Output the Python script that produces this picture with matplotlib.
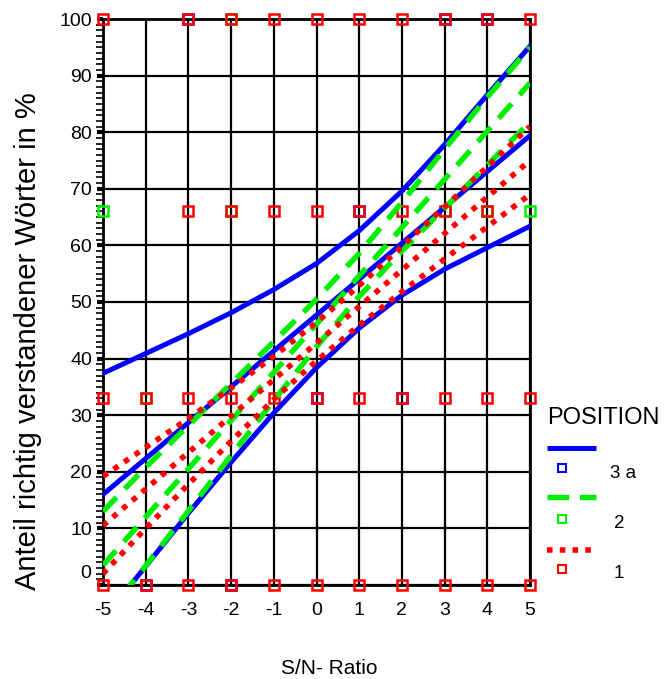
import matplotlib
matplotlib.use("Agg")
import matplotlib.pyplot as plt
from matplotlib.ticker import MultipleLocator

plt.rcParams['font.family'] = ['Liberation Sans', 'DejaVu Sans']

# ---------------- data ----------------
sn = [-5, -4, -3, -2, -1, 0, 1, 2, 3, 4, 5]

# POSITION 3 a (blue): regression line and confidence band
blue_fit_x = [-5, 5]
blue_fit_y = [16.0, 79.4]
blue_upper = [37.4, 40.9, 44.4, 48.1, 52.2, 56.8, 62.6, 69.6, 77.8, 86.6, 95.2]
blue_lower = [-6.0, 3.3, 12.7, 21.7, 30.4, 38.4, 45.4, 51.2, 55.8, 59.6, 63.4]

# POSITION 2 (green)
green_fit_x = [-5, 5]
green_fit_y = [3.5, 88.7]
green_upper = [13.0, 20.8, 28.2, 35.6, 43.0, 50.5, 58.6, 67.6, 77.0, 86.2, 95.0]
green_lower = [-6.2, 3.4, 13.1, 22.9, 32.6, 42.1, 51.0, 59.0, 66.6, 74.2, 81.8]

# POSITION 1 (red)
red_fit_x = [-5, 5]
red_fit_y = [10.5, 75.0]
red_upper = [19.2, 24.3, 29.4, 34.8, 40.4, 46.4, 52.9, 59.8, 66.8, 73.9, 81.0]
red_lower = [2.0, 10.0, 17.8, 25.4, 32.8, 39.6, 45.9, 51.8, 57.6, 63.3, 69.0]

# observed scores (open squares)
blue_pts_x = [-4, -2, 0, 2, 4, -3, 1, 3]
blue_pts_y = [0, 0, 33, 33, 100, 100, 66, 100]
green_pts_x = [-5, 5, -2, -2, -4, 3, 4]
green_pts_y = [66, 66, 100, 66, 33, 66, 66]
red_pts_x = ([-5, -4, -3, -2, -1, 0, 1, 2, 3, 4, 5] +
             [-5, -4, -3, -2, -1, 0, 1, 2, 3, 4, 5] +
             [-3, -2, -1, 0, 1, 2, 3, 4] +
             [-5, -3, -2, -1, 0, 1, 2, 3, 4, 5])
red_pts_y = ([0] * 11 + [33] * 11 + [66] * 8 + [100] * 10)

x_ticks = [-5, -4, -3, -2, -1, 0, 1, 2, 3, 4, 5]
y_ticks = [0, 10, 20, 30, 40, 50, 60, 70, 80, 90, 100]

legend_title = "POSITION"
legend_labels = ["3 a", "2", "1"]

BLUE = "#0000ff"
GREEN = "#00ee00"
RED = "#ff0000"

# ---------------- figure ----------------
W, H = 668, 679
fig = plt.figure(figsize=(W / 100, H / 100), dpi=100)
ax = fig.add_axes([103 / W, 1 - 585 / H, 427 / W, 566 / H])

ax.set_xlim(-5, 5)
ax.set_ylim(0, 100)

ax.set_xticks(x_ticks)
ax.set_xticklabels([str(v) for v in x_ticks])
ax.set_yticks(y_ticks)
ax.set_yticklabels([''] + [str(v) for v in y_ticks[1:]])
ax.yaxis.set_minor_locator(MultipleLocator(1))
ax.tick_params(axis='x', length=0, pad=12, labelsize=14)
ax.tick_params(axis='y', which='major', length=4, width=3, pad=4, labelsize=14, direction='out')
ax.tick_params(axis='y', which='minor', length=5, width=1.2, direction='out')
ax.annotate('0', xy=(0, 0), xycoords=('axes fraction', 'data'),
            xytext=(-8.5, 8), textcoords='offset points', ha='right', va='center',
            fontsize=14)

ax.grid(True, which='major', color='black', linewidth=1.6)
ax.set_axisbelow(True)
for s in ax.spines.values():
    s.set_linewidth(2)

# markers (under the lines)
mk = dict(marker='s', linestyle='none', markersize=7, markerfacecolor='none',
          markeredgewidth=1.8, clip_on=False)
ax.plot(blue_pts_x, blue_pts_y, markeredgecolor=BLUE, zorder=3, **mk)
ax.plot(green_pts_x, green_pts_y, markeredgecolor=GREEN, zorder=3.1, **mk)
ax.plot(red_pts_x, red_pts_y, markeredgecolor=RED, zorder=3.2, **mk)

# lines
lw = 3.6
ax.plot(blue_fit_x, blue_fit_y, color=BLUE, lw=lw, zorder=4)
ax.plot(sn, blue_upper, color=BLUE, lw=lw, zorder=4)
ax.plot(sn, blue_lower, color=BLUE, lw=lw, zorder=4)

glw = 3.9
gdash = (0, (3.6, 2.2))
ax.plot(green_fit_x, green_fit_y, color=GREEN, lw=glw, ls=gdash, dash_capstyle='butt', zorder=5)
ax.plot(sn, green_upper, color=GREEN, lw=glw, ls=gdash, dash_capstyle='butt', zorder=5)
ax.plot(sn, green_lower, color=GREEN, lw=glw, ls=gdash, dash_capstyle='butt', zorder=5)

rlw = 4.0
rdot = (0, (1.0, 1.3))
ax.plot(red_fit_x, red_fit_y, color=RED, lw=rlw, ls=rdot, dash_capstyle='butt', zorder=6)
ax.plot(sn, red_upper, color=RED, lw=rlw, ls=rdot, dash_capstyle='butt', zorder=6)
ax.plot(sn, red_lower, color=RED, lw=rlw, ls=rdot, dash_capstyle='butt', zorder=6)

ax.set_ylabel("Anteil richtig verstandener Wörter in %", fontsize=21)
ax.yaxis.set_label_coords(-0.143, 0.43)
ax.set_xlabel("S/N- Ratio", fontsize=15)
ax.xaxis.set_label_coords(0.53, -0.131)

# ---------------- legend (custom two-row entries) ----------------
lax = fig.add_axes([0, 0, 1, 1], facecolor='none')
lax.set_xlim(0, W)
lax.set_ylim(H, 0)
lax.axis('off')
lax.text(547, 418, legend_title, fontsize=17, ha='left', va='center')
lax.plot([547, 596], [448, 448], color=BLUE, lw=lw, solid_capstyle='butt')
lax.plot([547, 596], [497, 497], color=GREEN, lw=glw, ls=(0, (4.0, 2.0)), dash_capstyle='butt')
lax.plot([547, 596], [550, 550], color=RED, lw=rlw, ls=rdot, dash_capstyle='butt')
lmk = dict(marker='s', markersize=6, markerfacecolor='none', markeredgewidth=1.5, linestyle='none')
lax.plot([562], [468], markeredgecolor=BLUE, **lmk)
lax.plot([562], [519], markeredgecolor=GREEN, **lmk)
lax.plot([562], [569], markeredgecolor=RED, **lmk)
for lbl, yy in zip(legend_labels, [473, 523, 573]):
    lax.text(610 if lbl == "3 a" else 614, yy, lbl, fontsize=13.5, ha='left', va='center')

fig.savefig("out.png", dpi=100)
